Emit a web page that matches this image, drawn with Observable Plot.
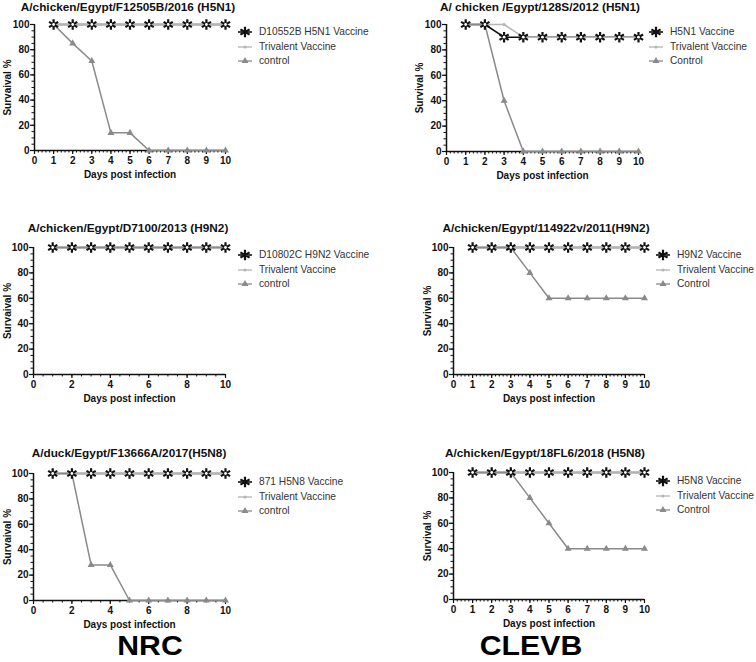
<!DOCTYPE html>
<html>
<head>
<meta charset="utf-8">
<script src="https://cdn.jsdelivr.net/npm/d3@7"></script>
<script src="https://cdn.jsdelivr.net/npm/@observablehq/plot@0.6"></script>
<style>
  html, body { margin: 0; padding: 0; background: #fff; }
  #root { position: relative; width: 756px; height: 662px; overflow: hidden; background: #fff; font-family: "Liberation Sans", Arial, sans-serif; }
  .abs { position: absolute; }
  .title { font-weight: bold; font-size: 11.8px; line-height: 13px; color: #111; white-space: nowrap; transform: translateX(-50%); }
  .leg { font-size: 10.2px; line-height: 12px; color: #333; white-space: nowrap; display: flex; align-items: center; }
  .big { font-weight: bold; font-size: 28.5px; line-height: 31.8px; color: #000; white-space: nowrap; transform: translateX(-50%) scaleX(1.06); transform-origin: 50% 50%; }
</style>
</head>
<body>
<div id="root"></div>
<script>
// ---------- data ----------
const days = [1, 2, 3, 4, 5, 6, 7, 8, 9, 10];
const xTicksFine = [0, 1, 2, 3, 4, 5, 6, 7, 8, 9, 10];
const xTicksCoarse = [0, 2, 4, 6, 8, 10];
const yTicks = [0, 20, 40, 60, 80, 100];

const titles = [
  "A/chicken/Egypt/F12505B/2016 (H5N1)",
  "A/ chicken /Egypt/128S/2012 (H5N1)",
  "A/chicken/Egypt/D7100/2013 (H9N2)",
  "A/chicken/Egypt/114922v/2011(H9N2)",
  "A/duck/Egypt/F13666A/2017(H5N8)",
  "A/chicken/Egypt/18FL6/2018 (H5N8)"
];
const yLabels = ["Survaival %", "Survival %", "Survaival %", "Survival %", "Survaival %", "Survival %"];
const xLabel = "Days post infection";
const legendNames = [
  ["D10552B H5N1 Vaccine", "Trivalent Vaccine", "control"],
  ["H5N1 Vaccine", "Trivalent Vaccine", "Control"],
  ["D10802C H9N2 Vaccine", "Trivalent Vaccine", "control"],
  ["H9N2 Vaccine", "Trivalent Vaccine", "Control"],
  ["871 H5N8 Vaccine", "Trivalent Vaccine", "control"],
  ["H5N8 Vaccine", "Trivalent Vaccine", "Control"]
];
const groupLabels = ["NRC", "CLEVB"];

const p1Vaccine   = [100, 100, 100, 100, 100, 100, 100, 100, 100, 100];
const p1Trivalent = [100, 100, 100, 100, 100, 100, 100, 100, 100, 100];
const p1Control   = [100, 85, 71, 14, 14, 0, 0, 0, 0, 0];

const p2Vaccine   = [100, 100, 90, 90, 90, 90, 90, 90, 90, 90];
const p2Trivalent = [100, 100, 100, 90, 90, 90, 90, 90, 90, 90];
const p2Control   = [100, 100, 40, 0, 0, 0, 0, 0, 0, 0];

const p3Vaccine   = [100, 100, 100, 100, 100, 100, 100, 100, 100, 100];
const p3Trivalent = [100, 100, 100, 100, 100, 100, 100, 100, 100, 100];
const p3Control   = [100, 100, 100, 100, 100, 100, 100, 100, 100, 100];

const p4Vaccine   = [100, 100, 100, 100, 100, 100, 100, 100, 100, 100];
const p4Trivalent = [100, 100, 100, 100, 100, 100, 100, 100, 100, 100];
const p4Control   = [100, 100, 100, 80, 60, 60, 60, 60, 60, 60];

const p5Vaccine   = [100, 100, 100, 100, 100, 100, 100, 100, 100, 100];
const p5Trivalent = [100, 100, 100, 100, 100, 100, 100, 100, 100, 100];
const p5Control   = [100, 100, 28, 28, 0, 0, 0, 0, 0, 0];

const p6Vaccine   = [100, 100, 100, 100, 100, 100, 100, 100, 100, 100];
const p6Trivalent = [100, 100, 100, 100, 100, 100, 100, 100, 100, 100];
const p6Control   = [100, 100, 100, 80, 60, 40, 40, 40, 40, 40];

const series = [
  [p1Vaccine, p1Trivalent, p1Control],
  [p2Vaccine, p2Trivalent, p2Control],
  [p3Vaccine, p3Trivalent, p3Control],
  [p4Vaccine, p4Trivalent, p4Control],
  [p5Vaccine, p5Trivalent, p5Control],
  [p6Vaccine, p6Trivalent, p6Control]
];

// ---------- layout ----------
const layout = [
  {x0: 34,  x10: 225, y100: 24,  y0: 150, tx: 128, ty: 7,   lx: 245, ly: 32,  coarse: false, ylx: 5},
  {x0: 446, x10: 638, y100: 24,  y0: 151, tx: 540, ty: 7,   lx: 656, ly: 32,  coarse: false, ylx: 417},
  {x0: 33,  x10: 225, y100: 247, y0: 374, tx: 128, ty: 228, lx: 245, ly: 255, coarse: true,  ylx: 5},
  {x0: 453, x10: 644, y100: 247, y0: 374, tx: 546, ty: 228, lx: 663, ly: 255, coarse: false, ylx: 425},
  {x0: 33,  x10: 225, y100: 473, y0: 600, tx: 129, ty: 453, lx: 245, ly: 482, coarse: true,  ylx: 5},
  {x0: 453, x10: 644, y100: 472, y0: 599, tx: 545, ty: 453, lx: 663, ly: 481, coarse: false, ylx: 425}
];
const groupPos = [{x: 150, y: 630.2}, {x: 531, y: 630.2}];

const C_VAC = "#111", C_TRI = "#b4b4b4", C_CON = "#8a8a8a";

const root = document.getElementById("root");

function rows(vals) { return days.map((d, i) => ({day: d, v: vals[i]})); }

layout.forEach((L, k) => {
  const [vac, tri, con] = series[k].map(rows);
  const mL = 34, mR = 14, mT = 24, mB = 36;
  const width = (L.x10 - L.x0) + mL + mR;
  const height = (L.y0 - L.y100) + mT + mB;
  const majorX = L.coarse ? xTicksCoarse : xTicksFine;
  const minorX = d3.range(0, 10.001, L.coarse ? 0.5 : 0.2).map(v => +v.toFixed(2));
  const minorY = d3.range(0, 100.001, 5);
  const yAxisOffset = L.x0 - L.ylx;
  const svg = Plot.plot({
    width, height,
    marginLeft: mL, marginRight: mR, marginTop: mT, marginBottom: mB,
    x: {domain: [0, 10]},
    y: {domain: [0, 100]},
    style: {fontFamily: "Liberation Sans, Arial, sans-serif", fontSize: "10px", fontWeight: "bold", color: "#111", background: "transparent", overflow: "visible"},
    marks: [
      Plot.axisX(minorX, {tickSize: 2.5, text: null, label: null, strokeWidth: 1}),
      Plot.axisX(majorX, {tickSize: 4, tickPadding: 2, strokeWidth: 1.2, label: xLabel, labelAnchor: "center", labelArrow: "none", labelOffset: 27}),
      Plot.axisY(minorY, {tickSize: 2.5, text: null, label: null, strokeWidth: 1}),
      Plot.axisY(yTicks, {tickSize: 4, tickPadding: 1, strokeWidth: 1.2, label: yLabels[k], labelAnchor: "center", labelArrow: "none", labelOffset: yAxisOffset + 2}),
      Plot.ruleY([0], {stroke: "#111", strokeWidth: 1.5}),
      Plot.ruleX([0], {stroke: "#111", strokeWidth: 1.5}),
      Plot.line(vac, {x: "day", y: "v", stroke: C_VAC, strokeWidth: 1.6}),
      Plot.line(tri, {x: "day", y: "v", stroke: C_TRI, strokeWidth: 1.5}),
      Plot.line(con, {x: "day", y: "v", stroke: C_CON, strokeWidth: 1.5}),
      Plot.dot(tri, {x: "day", y: "v", r: 1.6, fill: C_TRI}),
      Plot.dot(con, {x: "day", y: "v", symbol: "triangle", r: 2.6, fill: C_CON}),
      Plot.dot(vac, {x: "day", y: "v", symbol: "asterisk", r: 5, stroke: C_VAC, strokeWidth: 2.2}),
      Plot.dot(vac, {x: "day", y: "v", r: 1.4, fill: "#fff"})
    ]
  });
  svg.style.position = "absolute";
  svg.style.left = (L.x0 - mL) + "px";
  svg.style.top = (L.y100 - mT) + "px";
  root.appendChild(svg);

  // title
  const t = document.createElement("div");
  t.className = "abs title";
  t.style.left = L.tx + "px";
  t.style.top = (L.ty - 6.5) + "px";
  t.textContent = titles[k];
  root.appendChild(t);

  // legend
  legendNames[k].forEach((name, j) => {
    const row = document.createElement("div");
    row.className = "abs leg";
    row.style.left = (L.lx - 8) + "px";
    row.style.top = (L.ly + j * 14.5 - 6) + "px";
    const s = d3.create("svg").attr("width", 22).attr("height", 12).style("flex", "none");
    const color = [C_VAC, C_TRI, C_CON][j];
    s.append("line").attr("x1", 1).attr("x2", 15).attr("y1", 6).attr("y2", 6)
      .attr("stroke", color).attr("stroke-width", j === 0 ? 1.6 : 1.3);
    if (j === 0) {
      s.append("path").attr("d", d3.symbol(d3.symbolAsterisk, Math.PI * 25)())
        .attr("transform", "translate(8,6)").attr("stroke", C_VAC).attr("stroke-width", 2.2).attr("fill", "none");
    } else if (j === 1) {
      s.append("circle").attr("cx", 8).attr("cy", 6).attr("r", 1.6).attr("fill", C_TRI);
    } else {
      s.append("path").attr("d", d3.symbol(d3.symbolTriangle, Math.PI * 2.6 * 2.6)())
        .attr("transform", "translate(8,6)").attr("fill", C_CON);
    }
    row.appendChild(s.node());
    const span = document.createElement("span");
    span.textContent = name;
    row.appendChild(span);
    root.appendChild(row);
  });
});

groupLabels.forEach((g, i) => {
  const d = document.createElement("div");
  d.className = "abs big";
  d.style.left = groupPos[i].x + "px";
  d.style.top = groupPos[i].y + "px";
  d.textContent = g;
  root.appendChild(d);
});
</script>
</body>
</html>
